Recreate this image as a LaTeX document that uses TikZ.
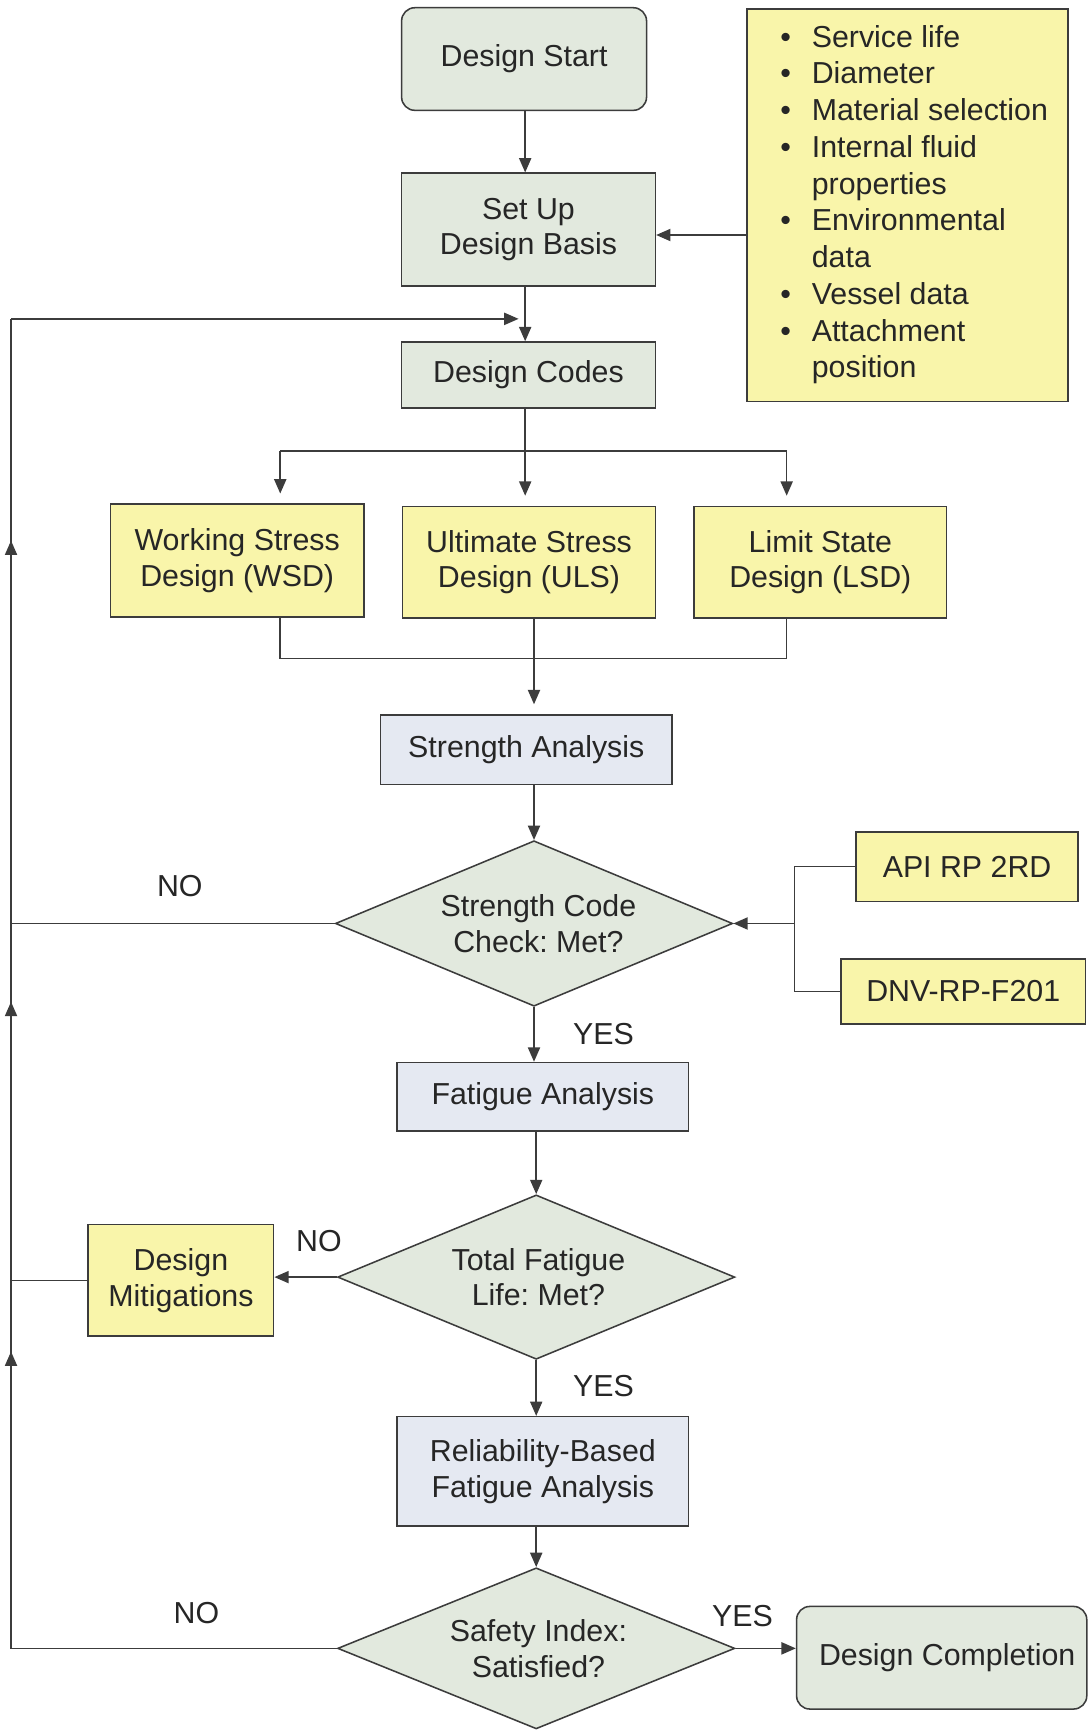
\documentclass[tikz,border=0pt]{standalone}
\usepackage{fontspec}
\setmainfont{Liberation Sans}
\usetikzlibrary{arrows.meta,shapes.geometric,calc}
\definecolor{gfill}{RGB}{226,233,222}
\definecolor{yfill}{RGB}{249,245,170}
\definecolor{bfill}{RGB}{229,233,242}
\definecolor{edge}{RGB}{60,60,60}
\definecolor{txt}{RGB}{38,38,38}
\frenchspacing
\begin{document}
\begin{tikzpicture}[x=1pt,y=-1pt,
  every node/.style={font=\fontsize{27.5}{32.5}\selectfont\frenchspacing, text=txt},
  box/.style={draw=edge, line width=1.4pt, rectangle, align=center, inner sep=0pt},
  gbox/.style={box, fill=gfill},
  ybox/.style={box, fill=yfill},
  bbox/.style={box, fill=bfill},
  rbox/.style={gbox, rounded corners=12pt},
  dec/.style={draw=edge, line width=1.4pt, diamond, aspect=2.4, inner sep=0pt, fill=gfill, minimum width=360pt, minimum height=150pt, align=center},
  conn/.style={draw=edge, line width=1.4pt},
  arr/.style={conn, -{Triangle[length=13pt,width=11pt]}}]
\path[use as bounding box, fill=white] (0,0) rectangle (986,1568);

% nodes
\node[rbox, minimum width=222pt, minimum height=93pt] (DS) at (475,53.5) {Design Start};
\node[ybox, minimum width=291pt, minimum height=356pt, align=left] (info) at (822.5,186)
 {\hspace*{12pt}{\fontsize{27.5}{33.3}\selectfont\begin{tabular}{@{}l@{\hspace{19pt}}l@{}}
 \textbullet & Service life\\
 \textbullet & Diameter\\
 \textbullet & Material selection\\
 \textbullet & Internal fluid\\
  & properties\\
 \textbullet & Environmental\\
  & data\\
 \textbullet & Vessel data\\
 \textbullet & Attachment\\
  & position
 \end{tabular}}};
\node[gbox, minimum width=230pt, minimum height=102pt] (SU) at (479,208) {Set Up\\Design Basis};
\node[gbox, minimum width=230pt, minimum height=60pt] (Codes) at (479,340) {Design Codes};
\node[ybox, minimum width=230pt, minimum height=102pt] (WSD) at (215,508) {Working Stress\\Design (WSD)};
\node[ybox, minimum width=229pt, minimum height=101pt] (ULS) at (479.5,509.5) {Ultimate Stress\\Design (ULS)};
\node[ybox, minimum width=229pt, minimum height=101pt] (LSD) at (743.5,509.5) {Limit State\\Design (LSD)};
\node[bbox, minimum width=264pt, minimum height=63pt] (Str) at (477,679.5) {Strength Analysis};
\node[dec] (D1) at (484,837) {\hspace*{8pt}Strength Code\\\hspace*{8pt}Check: Met?};
\node[ybox, minimum width=201pt, minimum height=63pt] (API) at (876.5,785.5) {API RP 2RD};
\node[ybox, minimum width=222pt, minimum height=59pt] (DNV) at (873,898.5) {DNV-RP-F201};
\node[bbox, minimum width=264pt, minimum height=62pt] (Fat) at (492,994) {Fatigue Analysis};
\node[dec, minimum height=149pt] (D2) at (486,1157.5) {\hspace*{4pt}Total Fatigue\\\hspace*{4pt}Life: Met?};
\node[ybox, minimum width=168pt, minimum height=101pt] (Mit) at (164,1160.5) {Design\\Mitigations};
\node[bbox, minimum width=264pt, minimum height=99pt] (Rel) at (492,1333.5) {Reliability-Based\\Fatigue Analysis};
\node[dec, minimum height=146pt] (D3) at (486,1494) {\hspace*{4pt}Safety Index:\\\hspace*{4pt}Satisfied?};
\node[rbox, minimum width=263pt, minimum height=93pt] (Comp) at (853.5,1502.5) {\hspace*{10pt}Design Completion};

% labels
\node (no1) at (163,803) {NO};
\node (yes1) at (547,937) {YES};
\node (no2) at (289,1125) {NO};
\node (yes2) at (547,1256) {YES};
\node (no3) at (178,1462) {NO};
\node (yes3) at (673,1465) {YES};

% coordinates
\coordinate (lt) at (10,289);
\coordinate (lin) at (470,289);
\coordinate (lb) at (10,1494);
\coordinate (bl) at (254,409);
\coordinate (bm) at (476,409);
\coordinate (br) at (713,409);
\coordinate (ml) at (254,597);
\coordinate (mr) at (713,597);
\coordinate (jn) at (720,837);
\coordinate (t1) at (10,1225);
\coordinate (t2) at (10,908);
\coordinate (t3) at (10,490);
\coordinate (inf) at (677,213);

% connectors
\draw[arr] (bm |- DS.south) -- (bm |- SU.north);
\draw[arr] (inf) -- (inf -| SU.east);
\draw[arr] (bm |- SU.south) -- (bm |- Codes.north);
\draw[arr] (lt) -- (lin);
\draw[conn] (bm |- Codes.south) -- (bm);
\draw[conn] (bl) -- (br);
\draw[arr, shorten >=9pt] (bl) -- (bl |- WSD.north);
\draw[arr, shorten >=9pt] (bm) -- (bm |- ULS.north);
\draw[arr, shorten >=9pt] (br) -- (br |- LSD.north);
\draw[conn] (ml |- WSD.south) -- (ml) -- (mr) -- (mr |- LSD.south);
\draw[arr, shorten >=9pt] (D1 |- ULS.south) -- (D1 |- Str.north);
\draw[arr] (D1 |- Str.south) -- (D1.north);
\draw[conn] (API.west) -| (jn);
\draw[conn] (DNV.west) -| (jn);
\draw[arr] (jn) -- (D1.east);
\draw[arr] (D1.south) -- (D1 |- Fat.north);
\draw[arr] (D2 |- Fat.south) -- (D2.north);
\draw[arr] (D2.west) -- (D2.west -| Mit.east);
\draw[arr] (D2.south) -- (D2 |- Rel.north);
\draw[arr] (D3 |- Rel.south) -- (D3.north);
\draw[arr] (D3.east) -- (D3.east -| Comp.west);
% return loop
\draw[conn] (D3.west) -- (lb) -- (lt);
\draw[conn] (D1.west) -- (D1.west -| lb);
\draw[conn] (Mit.west) -- (Mit.west -| lb);
\draw[arr] ($(t1)+(0,15)$) -- (t1);
\draw[arr] ($(t2)+(0,15)$) -- (t2);
\draw[arr] ($(t3)+(0,15)$) -- (t3);
\end{tikzpicture}
\end{document}
